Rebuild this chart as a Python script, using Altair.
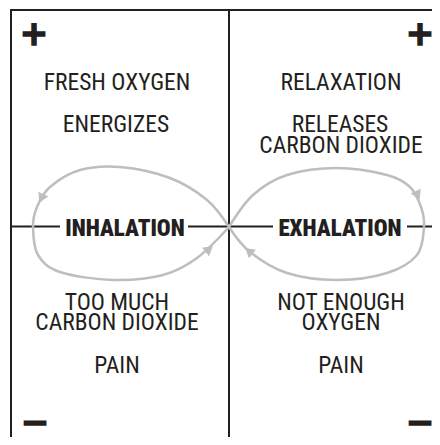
import altair as alt
import pandas as pd

# ---------------- data (figure coordinates, y grows downward) ----------------
frame_x = [10, 11, 229, 11, 188, 407]
frame_x2 = [440, 11, 229, 60, 273, 440]
frame_y = [10, 10, 10, 226.5, 226.5, 226.5]
frame_y2 = [10, 445, 445, 226.5, 226.5, 226.5]

labels = ["FRESH OXYGEN", "ENERGIZES", "RELAXATION", "RELEASES", "CARBON DIOXIDE",
          "TOO MUCH", "CARBON DIOXIDE", "PAIN", "NOT ENOUGH", "OXYGEN", "PAIN"]
label_x = [117, 116, 341, 340, 341, 117, 117, 117, 341, 341, 341]
label_y = [90, 131.5, 90, 131.5, 153, 310, 330, 373, 310, 330, 373]

titles = ["INHALATION", "EXHALATION"]
title_x = [125, 340]
title_y = [236, 236]

signs = ["+", "+", "\u2212", "\u2212"]
sign_x = [34, 420, 35, 420]
sign_y = [35, 35, 424, 424]

left_x = [229, 207, 170, 120, 80, 50, 37, 33, 38, 60, 113, 163, 197, 229]
left_y = [227, 200, 178, 167, 170, 187, 207, 227, 255, 272, 280, 275, 258, 227]
right_x = [229, 253, 287, 337, 387, 410, 421, 424, 417, 387, 337, 287, 250, 229]
right_y = [227, 195, 175, 168, 175, 187, 207, 227, 255, 273, 280, 273, 252, 227]

arrow_x = [42, 208, 417, 250]
arrow_y = [197, 250, 194, 252]
arrow_angle = [205, 50, 155, 310]

INK = "#231f20"
GREY = "#bcbec0"
FONT = "Roboto Condensed"

frame_df = pd.DataFrame({"x": frame_x, "x2": frame_x2, "y": frame_y, "y2": frame_y2})
label_df = pd.DataFrame({"text": labels, "x": label_x, "y": label_y})
title_df = pd.DataFrame({"text": titles, "x": title_x, "y": title_y})
sign_df = pd.DataFrame({"text": signs, "x": sign_x, "y": sign_y})
loop_df = pd.concat([
    pd.DataFrame({"loop": "left", "order": range(len(left_x)), "x": left_x, "y": left_y}),
    pd.DataFrame({"loop": "right", "order": range(len(right_x)), "x": right_x, "y": right_y}),
])
arrow_df = pd.DataFrame({"x": arrow_x, "y": arrow_y, "angle": arrow_angle})

xs = alt.Scale(domain=[8, 432], nice=False, zero=False)
ys = alt.Scale(domain=[8, 437], nice=False, zero=False, reverse=True)
X = alt.X("x:Q", scale=xs, axis=None)
Y = alt.Y("y:Q", scale=ys, axis=None)

frame = alt.Chart(frame_df).mark_rule(color=INK, strokeWidth=2).encode(
    x=X, x2="x2:Q", y=Y, y2="y2:Q")

loops = alt.Chart(loop_df).mark_line(color=GREY, strokeWidth=2.5, interpolate="cardinal").encode(
    x=X, y=Y, detail="loop:N", order="order:Q")

arrows = alt.Chart(arrow_df).mark_point(shape="triangle", filled=True, color=GREY,
                                        opacity=1, size=120).encode(
    x=X, y=Y, angle=alt.Angle("angle:Q", scale=None))

label_text = alt.Chart(label_df).mark_text(
    font=FONT, fontSize=23.5, color=INK, align="center",
    baseline="alphabetic").encode(x=X, y=Y, text="text:N")

title_text = alt.Chart(title_df).mark_text(
    font=FONT, fontSize=23, fontWeight=900, color=INK,
    align="center", baseline="alphabetic").encode(x=X, y=Y, text="text:N")

sign_text = alt.Chart(sign_df).mark_text(
    font="DejaVu Sans", fontSize=34, fontWeight="bold", color=INK, stroke=INK,
    strokeWidth=1.5, align="center", baseline="middle").encode(x=X, y=Y, text="text:N")

chart = alt.layer(frame, loops, arrows, label_text, title_text, sign_text).properties(
    width=424, height=429, autosize=alt.AutoSizeParams(type="none"), padding=0
).configure_view(stroke=None)

chart.save("out.html", embed_options={"renderer": "svg", "actions": False})
